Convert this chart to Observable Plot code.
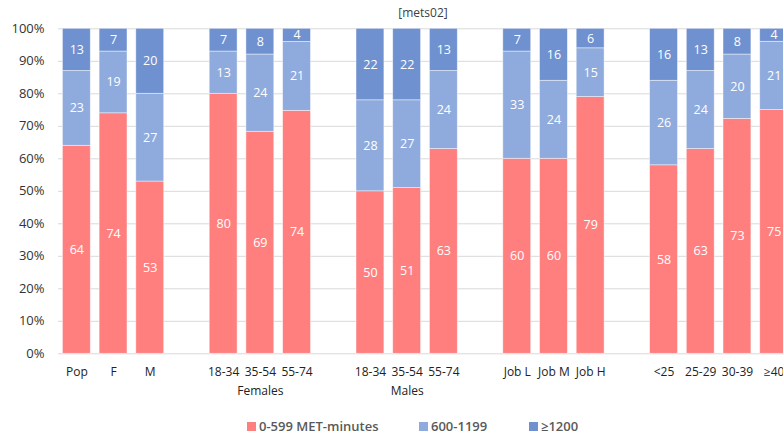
<!DOCTYPE html>
<html>
<head>
<meta charset="utf-8">
<script src="https://cdn.jsdelivr.net/npm/d3@7"></script>
<script src="https://cdn.jsdelivr.net/npm/@observablehq/plot@0.6"></script>
<style>
  body { margin: 0; background: #fff; font-family: "Open Sans", sans-serif; }
  #wrap { position: relative; width: 783px; height: 434px; overflow: hidden; }
  #title { position: absolute; top: 4px; left: 373px; width: 100px; text-align: center; font-size: 12px; color: #404040; }
  #chart { position: absolute; top: 0; left: 0; width: 800px; }
  #chart svg { max-width: none !important; }
  #legend { position: absolute; top: 417px; left: 0; width: 783px; height: 18px; font-size: 13px; font-weight: 600; color: #595959; }
  .item { position: absolute; top: 0; display: flex; align-items: center; white-space: nowrap; }
  .sw { width: 9px; height: 9px; margin-right: 3px; display: inline-block; }
</style>
</head>
<body>
<div id="wrap">
  <div id="title">[mets02]</div>
  <div id="chart"></div>
  <div id="legend"></div>
</div>
<script>
// Band slots along x; the "gap" slots keep empty space between groups
const keys = ["pop", "f", "m", "gap1", "f18", "f35", "f55", "gap2", "m18", "m35", "m55", "gap3",
              "jobL", "jobM", "jobH", "gap4", "a25", "a2529", "a3039", "a40"];
const tickLabels = ["Pop", "F", "M", "", "18-34", "35-54", "55-74", "", "18-34", "35-54", "55-74", "",
                    "Job L", "Job M", "Job H", "", "<25", "25-29", "30-39", "≥40"];

// Share of each group (%) in each MET-minutes band
const low  = [64, 74, 53, null, 80, 69, 74, null, 50, 51, 63, null, 60, 60, 79, null, 58, 63, 73, 75];
const mid  = [23, 19, 27, null, 13, 24, 21, null, 28, 27, 24, null, 33, 24, 15, null, 26, 24, 20, 21];
const high = [13,  7, 20, null,  7,  8,  4, null, 22, 22, 13, null,  7, 16,  6, null, 16, 13,  8,  4];

const series = ["0-599 MET-minutes", "600-1199", "≥1200"];
const colors = ["#FF7F7F", "#8FAADC", "#6F91D0"];

const groupKeys = ["f35", "m35"];
const groupLabels = ["Females", "Males"];

const yTicks = [0, 0.1, 0.2, 0.3, 0.4, 0.5, 0.6, 0.7, 0.8, 0.9, 1];

// Long-format rows, bottom segment first
const rows = [];
keys.forEach((k, i) => {
  [low, mid, high].forEach((arr, j) => {
    if (arr[i] != null) rows.push({key: k, series: series[j], value: arr[i]});
  });
});
const labelOf = Object.fromEntries(keys.map((k, i) => [k, tickLabels[i]]));
const groups = groupKeys.map((k, i) => ({key: k, label: groupLabels[i]}));

const chart = Plot.plot({
  width: 800,
  height: 405,
  marginLeft: 58,
  marginRight: 8,
  marginTop: 28.3,
  marginBottom: 51.7,
  style: {fontFamily: "'Open Sans', sans-serif", background: "transparent", maxWidth: "none"},
  x: {domain: keys, paddingInner: 0.24, paddingOuter: 0.12, round: false},
  y: {domain: [0, 1]},
  color: {domain: series, range: colors},
  marks: [
    Plot.gridY(yTicks, {stroke: "#d9d9d9", strokeOpacity: 1, strokeWidth: 1}),
    Plot.axisY(yTicks, {tickSize: 0, tickPadding: 14, tickFormat: d3.format(".0%"), fontSize: 13, fill: "#333", label: null}),
    Plot.axisX({tickSize: 0, tickPadding: 14, tickFormat: k => labelOf[k], fontSize: 12, fill: "#222", label: null}),
    Plot.barY(rows, Plot.stackY({
      offset: "normalize", x: "key", y: "value", fill: "series",
      stroke: "#fff", strokeOpacity: 0.55, strokeWidth: 0.8
    })),
    Plot.text(rows, Plot.stackY({
      offset: "normalize", x: "key", y: "value", text: d => String(d.value),
      fill: "white", fontSize: 12.5
    })),
    Plot.text(groups, {x: "key", text: "label", frameAnchor: "bottom", lineAnchor: "top", dy: 33, fontSize: 12, fill: "#222"})
  ]
});
document.getElementById("chart").appendChild(chart);

// Legend below the plot
const legendX = [247, 419, 529];
const legend = document.getElementById("legend");
series.forEach((s, i) => {
  const item = document.createElement("div");
  item.className = "item";
  item.style.left = legendX[i] + "px";
  const sw = document.createElement("span");
  sw.className = "sw";
  sw.style.background = colors[i];
  const t = document.createElement("span");
  t.textContent = s;
  item.appendChild(sw);
  item.appendChild(t);
  legend.appendChild(item);
});
</script>
</body>
</html>
